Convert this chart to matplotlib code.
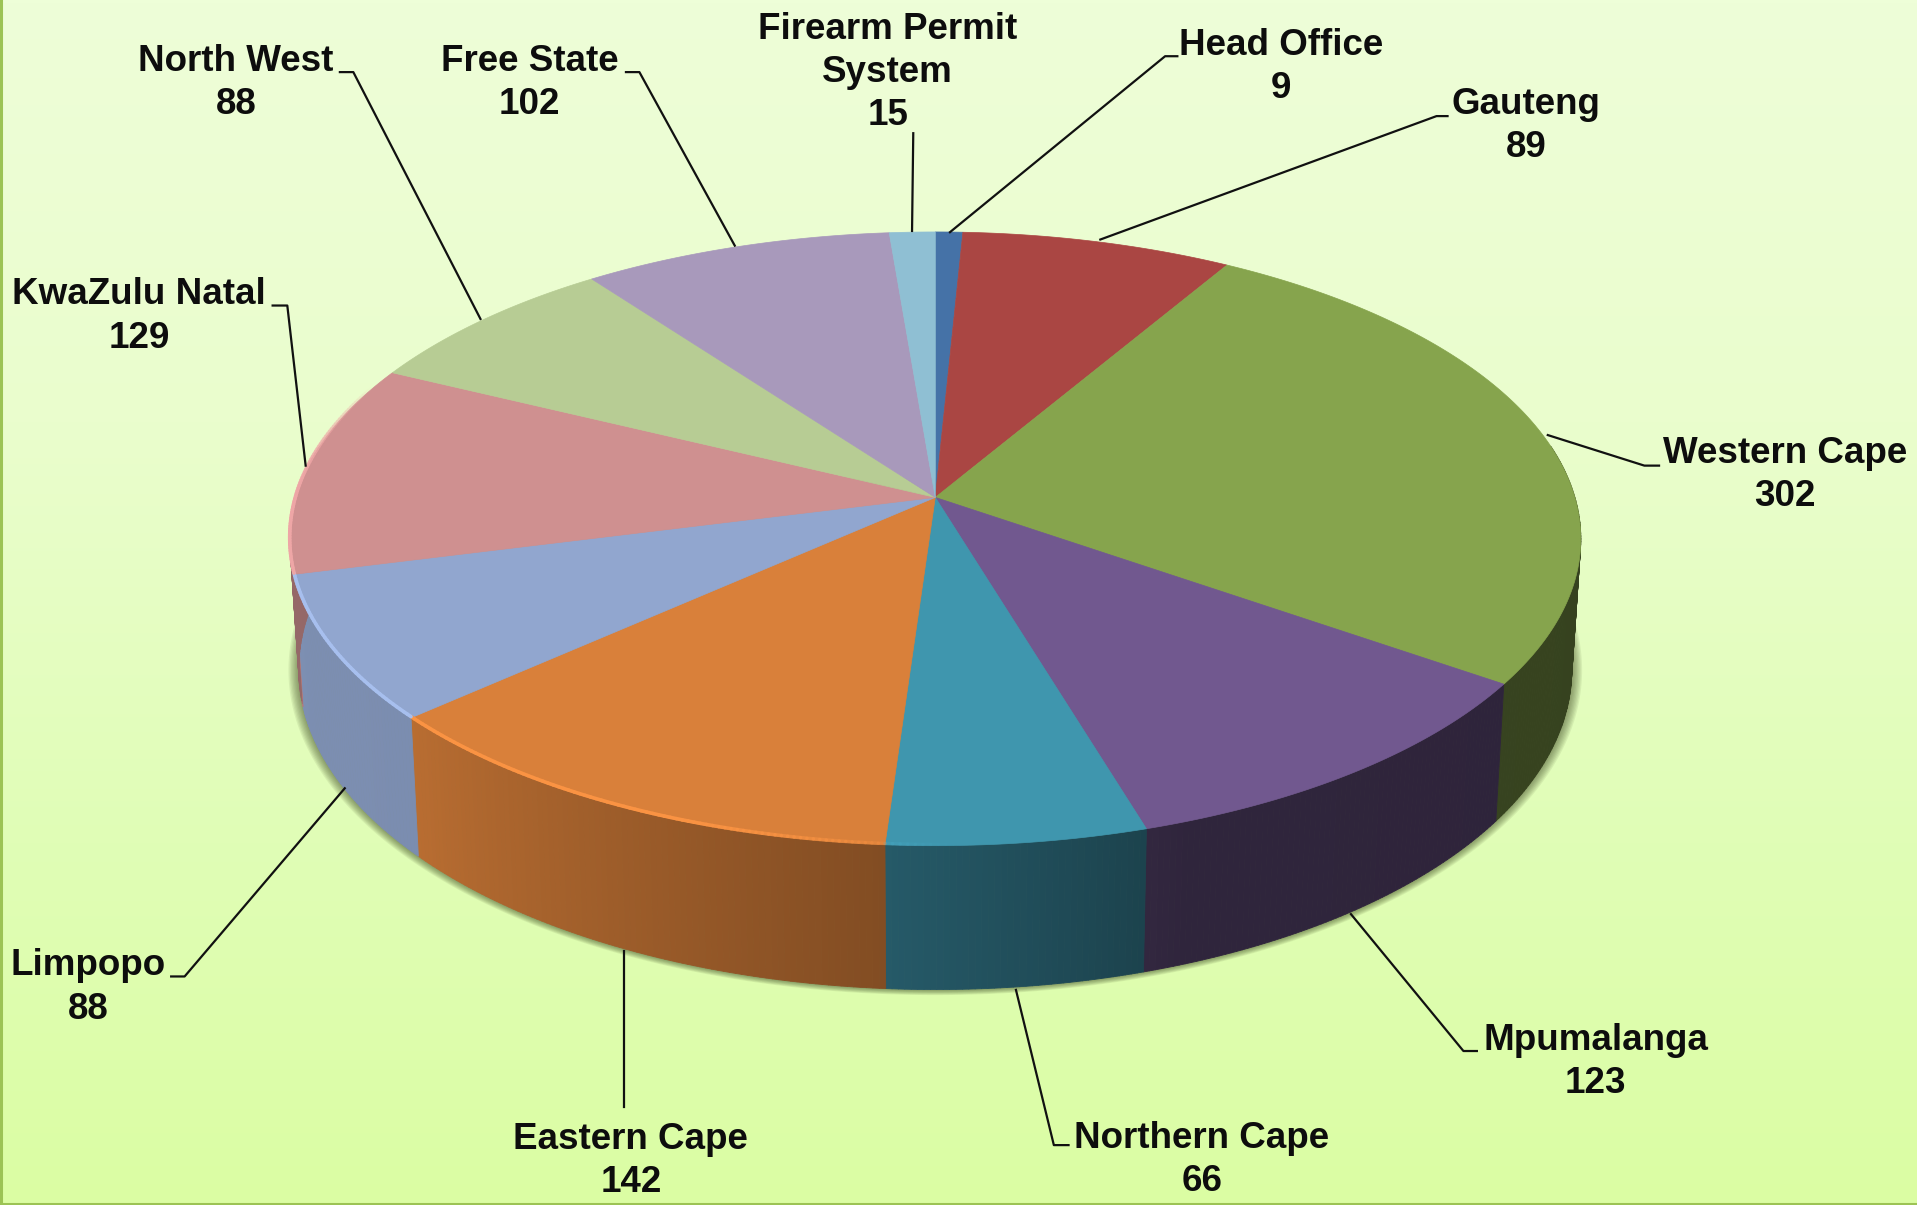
import numpy as np
import matplotlib
matplotlib.use("Agg")
import matplotlib.pyplot as plt
from matplotlib.collections import PolyCollection, LineCollection
from matplotlib.colors import to_rgb

categories = ["Head Office", "Gauteng", "Western Cape", "Mpumalanga", "Northern Cape",
              "Eastern Cape", "Limpopo", "KwaZulu Natal", "North West", "Free State",
              "Firearm Permit\nSystem"]
values = [9, 89, 302, 123, 66, 142, 88, 129, 88, 102, 15]
colors = ["#4572a7", "#aa4643", "#86a44d", "#71588f", "#3f96ae", "#d9803a",
          "#91a6cf", "#cf9090", "#b7cc94", "#a899bb", "#8fbfd3"]

# layout in the 1568x986 frame of the reference
label_xy = [(1048, 55), (1248, 103), (1460, 389), (1305, 869), (983, 949),
            (516, 950), (72, 808), (114, 259), (193, 68), (433, 68), (726, 59)]
leaders = [[(777, 190), (953, 46), (963, 46)],
           [(900, 196), (1175, 95), (1184, 95)],
           [(1266, 356), (1345, 381), (1357, 381)],
           [(1105, 748), (1197, 860), (1208, 860)],
           [(831, 810), (862, 937), (874, 937)],
           [(510, 778), (510, 906)],
           [(282, 645), (151, 799), (140, 799)],
           [(250, 381), (235, 250), (223, 250)],
           [(393, 261), (289, 59), (278, 59)],
           [(601, 201), (523, 59), (512, 59)],
           [(746, 189), (747, 109)]]

CX, CY, A, B, K = 765.0, 407.0, 523.2, 246.5, 0.1349
DROP, SX, SY = 105.5, 0.986, 1.043


def top_pt(deg):
    t = np.radians(deg)
    x, y = np.sin(t), np.cos(t)
    w = 1 + K * y
    return CX + A * x / w, CY - B * y / w


def low_pt(deg, grow=0.0):
    t = np.radians(deg)
    x, y = np.sin(t), np.cos(t)
    w = 1 + K * y
    return CX + A * (SX + grow) * x / w, CY + DROP - B * (SY + grow) * y / w


def wall_shade(deg):
    return np.interp(deg, [90, 160, 184, 228, 256, 257, 275], [.40, .42, .60, .85, .86, .72, .72])


fig = plt.figure(figsize=(19.17, 12.05), dpi=100)
ax = fig.add_axes([0, 0, 1, 1])
ax.set_xlim(0, 1568)
ax.set_ylim(986, 0)
ax.axis("off")

# background gradient
stops_y = np.array([0, .35, .7, 1.0])
stops = np.array([[238, 254, 216], [234, 253, 205], [224, 253, 182], [219, 253, 163]]) / 255
yy = np.linspace(0, 1, 400)
grad = np.stack([np.interp(yy, stops_y, stops[:, i]) for i in range(3)], axis=1)[:, None, :]
ax.imshow(grad, extent=[0, 1568, 986, 0], aspect="auto", zorder=0)
ax.plot([0.7, 0.7], [0, 986], color="#9cc355", lw=2.2, zorder=1)
ax.plot([0, 1568], [985.3, 985.3], color="#9cc355", lw=2.2, zorder=1)

# soft shadow under the body
full = np.linspace(60, 300, 300)
for g in np.linspace(0.016, 0.002, 8):
    px, py = low_pt(full, g)
    ax.fill(px, py, color="#46552a", alpha=0.09, lw=0, zorder=2)

# angles from the values
edges = np.concatenate([[0], np.cumsum(values)]) / np.sum(values) * 360

# side walls
polys, fcs = [], []
for i in range(len(values)):
    lo, hi = max(edges[i], 80), min(edges[i + 1], 280)
    if hi <= lo:
        continue
    grid = np.linspace(lo, hi, max(2, int((hi - lo) * 2) + 1))
    base = np.array(to_rgb(colors[i]))
    for d0, d1 in zip(grid[:-1], grid[1:]):
        tx, ty = top_pt(np.array([d0, d1]))
        bx, by = low_pt(np.array([d0, d1]))
        polys.append([(tx[0], ty[0]), (tx[1], ty[1]), (bx[1], by[1]), (bx[0], by[0])])
        fcs.append(base * wall_shade((d0 + d1) / 2))
ax.add_collection(PolyCollection(polys, facecolors=fcs, edgecolors=fcs, linewidths=0.6, zorder=3))

# top faces
for i in range(len(values)):
    arc = np.linspace(edges[i], edges[i + 1], max(3, int(edges[i + 1] - edges[i]) * 2))
    px, py = top_pt(arc)
    ax.fill(np.r_[CX, px], np.r_[CY, py], facecolor=colors[i], edgecolor=colors[i], lw=0.5, zorder=4)

# lit rim on the front-left edge
segs, cols = [], []
for i in range(len(values)):
    lo, hi = max(edges[i], 178), min(edges[i + 1], 292)
    if hi <= lo:
        continue
    grid = np.linspace(lo, hi, max(2, int((hi - lo) * 2)))
    base = np.array(to_rgb(colors[i]))
    for d0, d1 in zip(grid[:-1], grid[1:]):
        tx, ty = top_pt(np.array([d0, d1]))
        segs.append([(tx[0], ty[0] - 1), (tx[1], ty[1] - 1)])
        m = (d0 + d1) / 2
        f = np.interp(m, [178, 200, 270, 292], [0.0, 1.0, 1.0, 0.0])
        cols.append((*np.clip(base * 1.15, 0, 1), f))
ax.add_collection(LineCollection(segs, colors=cols, linewidths=2.6, zorder=5, capstyle="round"))

# leader lines and labels
for pts in leaders:
    xs, ys = zip(*pts)
    ax.plot(xs, ys, color="#111111", lw=1.6, zorder=6, solid_joinstyle="round")

for name, val, (x, y) in zip(categories, values, label_xy):
    ax.text(x, y, f"{name}\n{val}", ha="center", va="center", fontsize=26.5,
            fontfamily="Liberation Sans", fontweight="bold", color="#0d0d0d",
            linespacing=1.3, zorder=7)

fig.savefig("out.png", dpi=100)
